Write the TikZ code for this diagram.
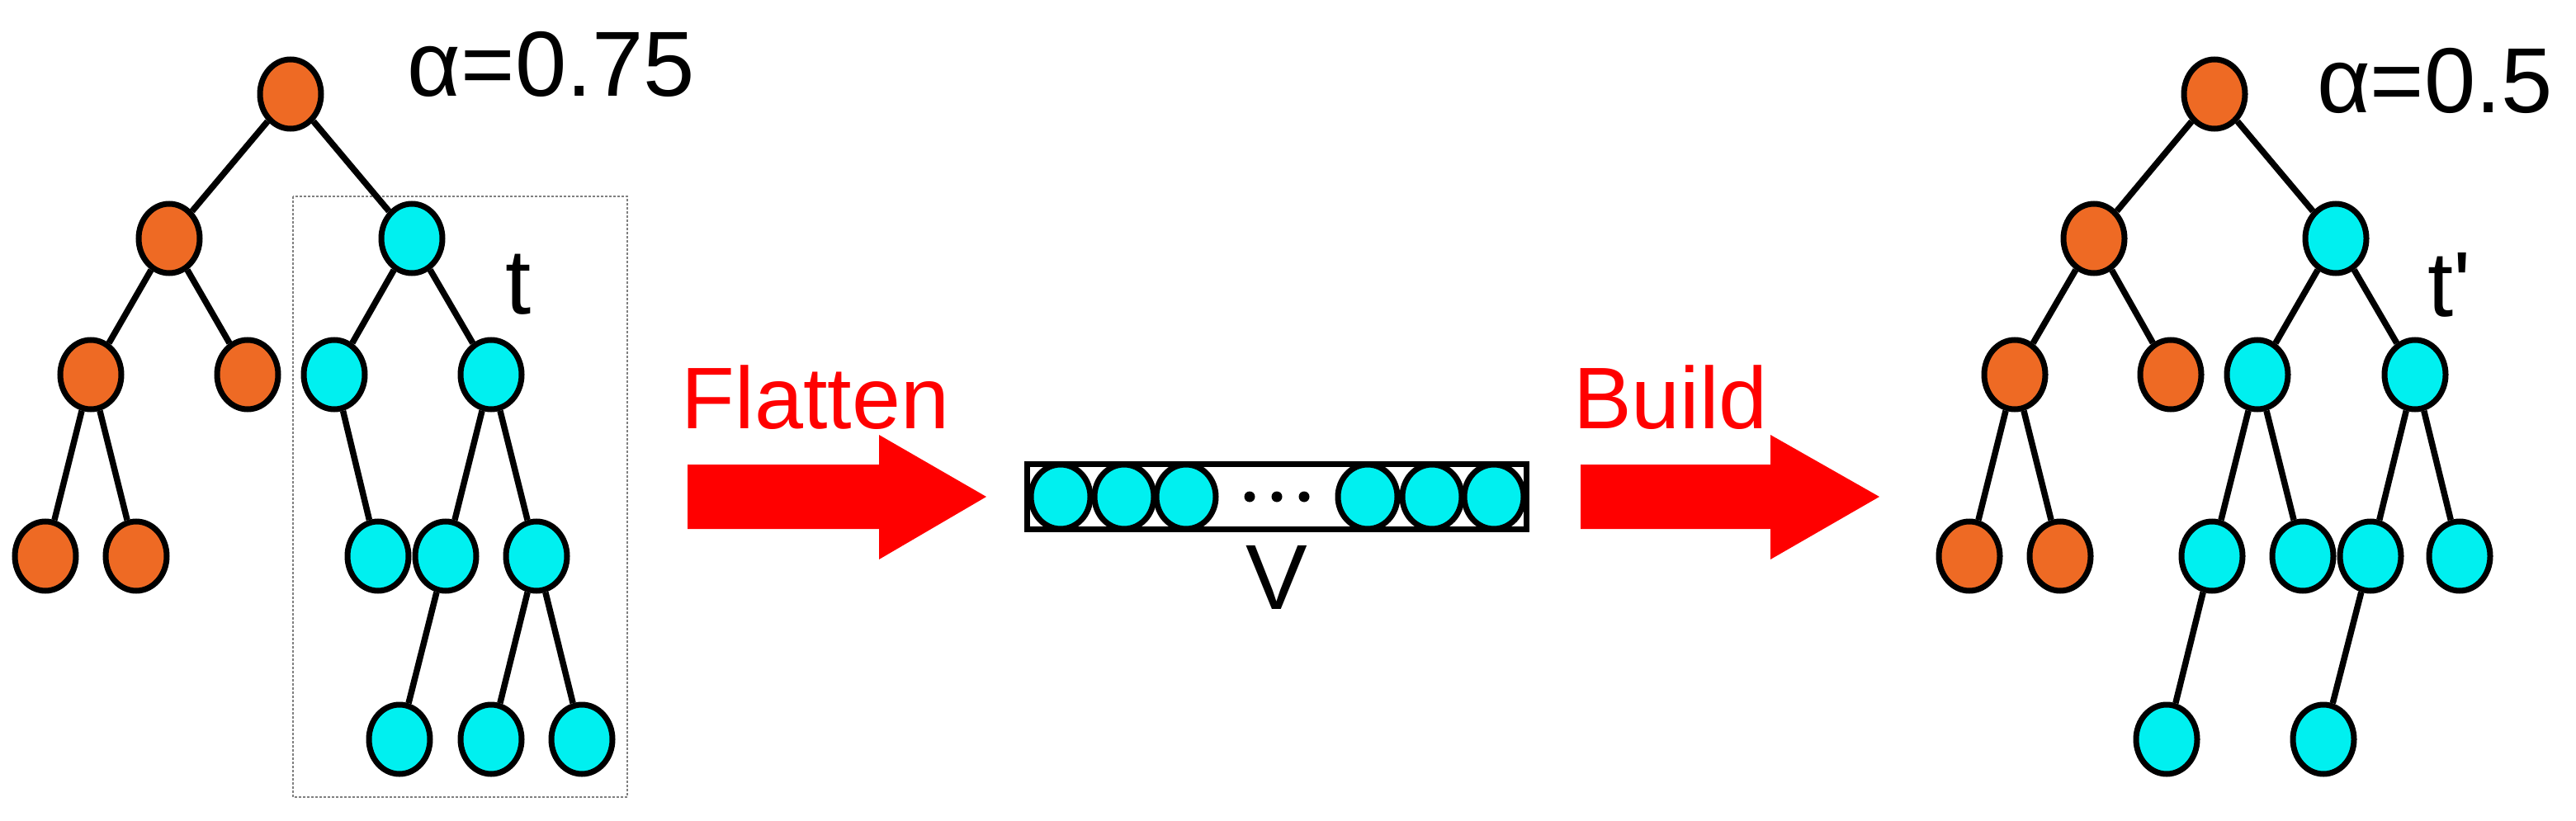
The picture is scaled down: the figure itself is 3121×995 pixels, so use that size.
\documentclass[tikz,border=0pt]{standalone}
\usepackage{fontspec}
\setmainfont{Liberation Sans}
\usepackage{textcomp}
\usetikzlibrary{shapes.geometric}
\definecolor{org}{HTML}{EE6A24}
\definecolor{cy}{HTML}{00F0F0}
\definecolor{arrred}{HTML}{FF0000}
\begin{document}
\begin{tikzpicture}[x=1pt,y=-1pt,
 nd/.style={ellipse,draw=black,line width=7pt,minimum width=74pt,minimum height=84pt,inner sep=0pt},
 o/.style={nd,fill=org}, c/.style={nd,fill=cy},
 e/.style={line width=7.5pt},
 big/.style={font=\fontsize{112}{114}\selectfont},
 redtxt/.style={font=\fontsize{106}{110}\selectfont,text=arrred},
 bigarrow/.style={fill=arrred}]
\useasboundingbox (0,0) rectangle (3121,995);
% left tree
\draw[densely dashed,gray,line width=2.5pt] (355,238) rectangle (760,966);
\node[o] (r) at (352,114) {};
\node[o] (a) at (205,289) {};
\node[c] (b) at (499,289) {};
\node[o] (a1) at (110,454) {};
\node[o] (a2) at (300,454) {};
\node[c] (b1) at (405,454) {};
\node[c] (b2) at (595,454) {};
\node[o] (a11) at (55,674) {};
\node[o] (a12) at (165,674) {};
\node[c] (b11) at (458,674) {};
\node[c] (b21) at (540,674) {};
\node[c] (b22) at (650,674) {};
\node[c] (c1) at (484,896) {};
\node[c] (c2) at (595,896) {};
\node[c] (c3) at (705,896) {};
\foreach \u/\v in {r/a,r/b,a/a1,a/a2,b/b1,b/b2,a1/a11,a1/a12,b1/b11,b2/b21,b2/b22,b21/c1,b22/c2,b22/c3}
  \draw[e] (\u) -- (\v);
\node[big] (al1) at (668,78) {α=0.75};
\node[big] (t) at (628,345) {t};
% flatten
\node[redtxt] (fl) at (988,482) {Flatten};
\fill[bigarrow] (833,563) -- (1065,563) -- (1065,527) -- (1195,602) -- (1065,678) -- (1065,641) -- (833,641) -- cycle;
\node[draw=black,line width=7pt,minimum width=605pt,minimum height=79pt,inner sep=0pt] (vb) at (1547,602) {};
\foreach \x/\n in {1285/v1,1362/v2,1437/v3,1657/v4,1735/v5,1810/v6}
  \node[c,minimum width=72pt,minimum height=78pt] (\n) at (\x,602) {};
\foreach \x/\n in {1514/d1,1547/d2,1580/d3}
  \node[circle,fill=black,minimum size=13pt,inner sep=0pt] (\n) at (\x,602) {};
\node[big] (V) at (1547,700) {V};
% build
\node[redtxt] (bl) at (2024,482) {Build};
\fill[bigarrow] (1915,563) -- (2145,563) -- (2145,527) -- (2277,602) -- (2145,678) -- (2145,641) -- (1915,641) -- cycle;
% right tree
\node[o] (R) at (2683,114) {};
\node[o] (A) at (2537,289) {};
\node[c] (B) at (2830,289) {};
\node[o] (A1) at (2441,454) {};
\node[o] (A2) at (2630,454) {};
\node[c] (B1) at (2735,454) {};
\node[c] (B2) at (2926,454) {};
\node[o] (A11) at (2386,674) {};
\node[o] (A12) at (2496,674) {};
\node[c] (B11) at (2680,674) {};
\node[c] (B12) at (2790,674) {};
\node[c] (B21) at (2872,674) {};
\node[c] (B22) at (2980,674) {};
\node[c] (C1) at (2625,896) {};
\node[c] (C2) at (2815,896) {};
\foreach \u/\v in {R/A,R/B,A/A1,A/A2,B/B1,B/B2,A1/A11,A1/A12,B1/B11,B1/B12,B2/B21,B2/B22,B11/C1,B21/C2}
  \draw[e] (\u) -- (\v);
\node[big] (al2) at (2950,98) {α=0.5};
\node[big] (tp) at (2968,345) {t\textquotesingle};
\end{tikzpicture}
\end{document}
